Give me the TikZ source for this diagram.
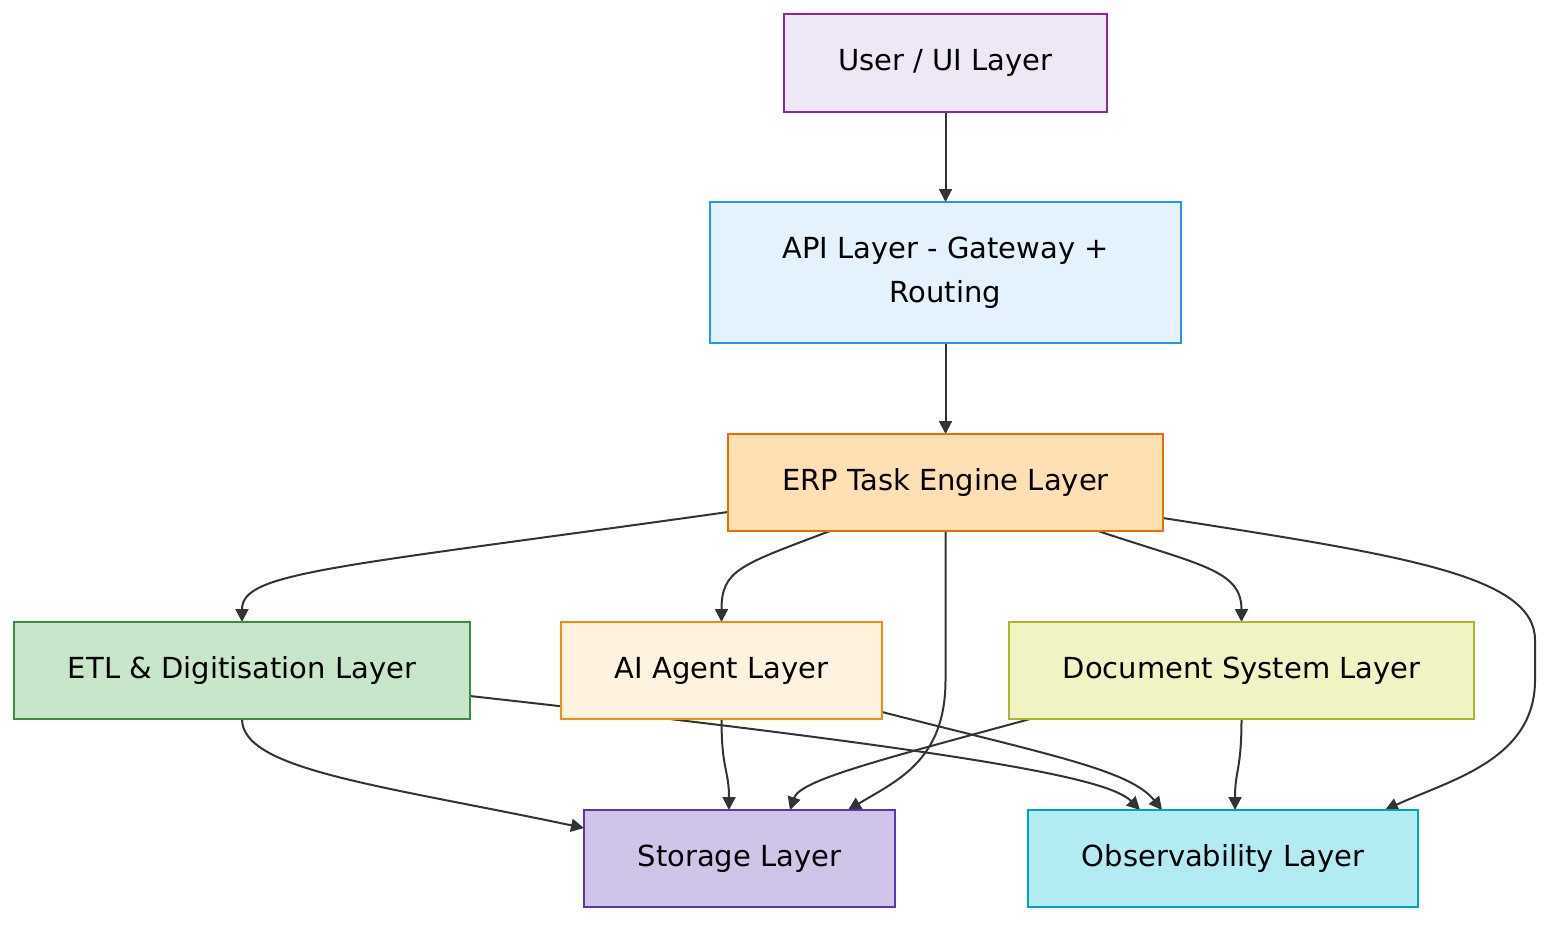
\documentclass[tikz,border=0pt]{standalone}
\usepackage{fontspec}
\setmainfont{DejaVu Sans}
\usetikzlibrary{arrows.meta, backgrounds}
\definecolor{uiFill}{HTML}{EDE7F6}
\definecolor{uiDraw}{HTML}{8E24AA}
\definecolor{apiFill}{HTML}{E3F2FD}
\definecolor{apiDraw}{HTML}{2196F3}
\definecolor{erpFill}{HTML}{FFE0B2}
\definecolor{erpDraw}{HTML}{EF6C00}
\definecolor{etlFill}{HTML}{C8E6C9}
\definecolor{etlDraw}{HTML}{388E3C}
\definecolor{aiFill}{HTML}{FFF3E0}
\definecolor{aiDraw}{HTML}{FB8C00}
\definecolor{docFill}{HTML}{F0F4C3}
\definecolor{docDraw}{HTML}{AFB42B}
\definecolor{stoFill}{HTML}{D1C4E9}
\definecolor{stoDraw}{HTML}{5E35B1}
\definecolor{obsFill}{HTML}{B2EBF2}
\definecolor{obsDraw}{HTML}{00A5B5}
\definecolor{linkGray}{HTML}{333333}

\begin{document}
\begin{tikzpicture}[>={Triangle[length=13pt, width=13pt]}, x=1pt, y=-1pt,
    layer/.style={draw, line width=1.5pt, inner sep=0pt, outer sep=0pt, minimum height=97pt,
      align=center, font=\fontsize{29}{44}\selectfont},
    link/.style={->, line width=2pt, draw=linkGray, fill=none}]
\useasboundingbox (0,0) rectangle (1568,932);
\node[layer, fill=uiFill, draw=uiDraw, minimum width=323pt, minimum height=98pt] (user) at (945.5,63) {User / UI Layer};
\node[layer, fill=apiFill, draw=apiDraw, minimum width=471pt, minimum height=141pt] (api) at (945.5,272.5) {API Layer - Gateway +\\Routing};
\node[layer, fill=erpFill, draw=erpDraw, minimum width=435pt] (erp) at (945.5,482.5) {ERP Task Engine Layer};
\node[layer, fill=etlFill, draw=etlDraw, minimum width=456pt] (etl) at (242,670.5) {ETL \& Digitisation Layer};
\node[layer, fill=aiFill, draw=aiDraw, minimum width=321pt] (ai) at (721.5,670.5) {AI Agent Layer};
\node[layer, fill=docFill, draw=docDraw, minimum width=465pt] (doc) at (1241.5,670.5) {Document System Layer};
\node[layer, fill=stoFill, draw=stoDraw, minimum width=311pt] (storage) at (739.5,858.5) {Storage Layer};
\node[layer, fill=obsFill, draw=obsDraw, minimum width=390pt] (obs) at (1223,858.5) {Observability Layer};

\begin{scope}[on background layer]
\draw[link] (user) -- (api);
\draw[link] (api) -- (erp);
\draw[link] ([yshift=-29.5pt]erp.west) .. controls +(-398,56) and +(0,-50) .. (etl.north);
\draw[link] ([xshift=-115.5pt]erp.south) .. controls +(-90,34) and +(0,-52) .. (ai.north);
\draw[link] (erp.south) -- ++(0,149) .. controls +(0,80) and +(50,-30) .. ([xshift=-47pt]storage.north east);
\draw[link] ([xshift=152.5pt]erp.south) .. controls +(102,34) and +(0,-52) .. (doc.north);
\draw[link] ([yshift=-35.5pt]erp.east) .. controls +(237,37) and +(0,-65) .. ++(372,122) -- ++(0,40)
  .. controls +(0,80) and +(65,-30) .. ([xshift=-33pt]obs.north east);
\draw[link] (etl.south) .. controls +(0,51) and +(-204,-43) .. ([yshift=30.5pt]storage.west);
\draw[link] ([yshift=-25.5pt]etl.east) .. controls +(530,59) and +(-30,-30) .. ([xshift=-83pt]obs.north);
\draw[link] (ai.south) .. controls +(0,51) and +(0,-40) .. ([xshift=-10.5pt]storage.north);
\draw[link] ([yshift=-41.5pt]ai.east) .. controls +(168,43) and +(-32,-40) .. ([xshift=-61pt]obs.north);
\draw[link] ([xshift=21pt]doc.south west) .. controls +(-150,41) and +(10,-30) .. ([xshift=50.5pt]storage.north);
\draw[link] (doc.south) .. controls +(0,51) and +(0,-40) .. ([xshift=12pt]obs.north);
\end{scope}
\end{tikzpicture}
\end{document}
